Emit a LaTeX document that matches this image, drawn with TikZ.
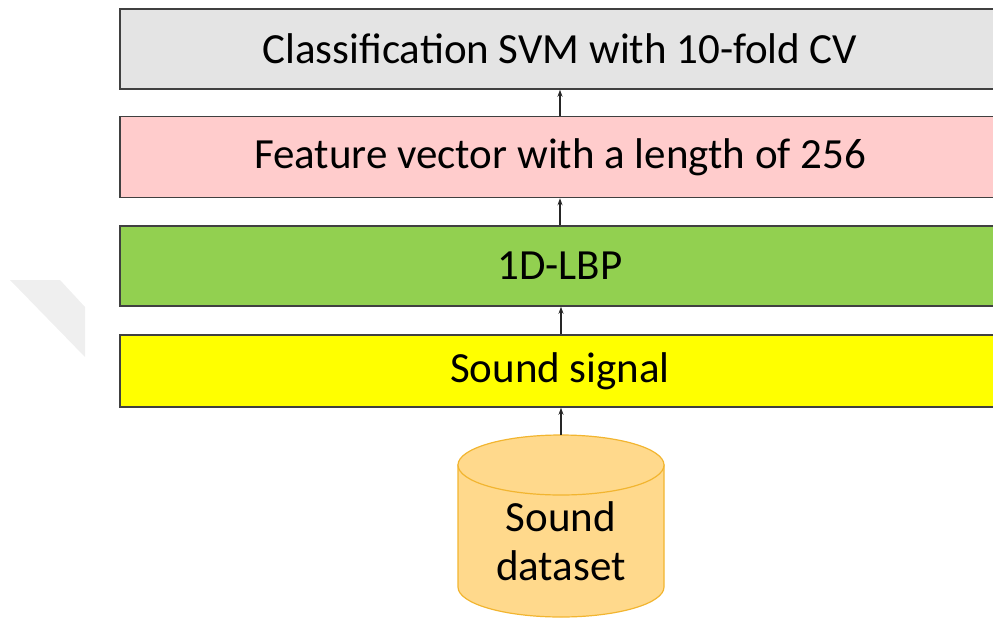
\documentclass[tikz,border=0pt]{standalone}
\usepackage{fontspec}
\setmainfont{Carlito}
\usetikzlibrary{arrows.meta}
\definecolor{boxgray}{HTML}{E4E4E4}
\definecolor{boxpink}{HTML}{FFCCCC}
\definecolor{boxgreen}{HTML}{92D050}
\definecolor{boxyellow}{HTML}{FFFF00}
\definecolor{canfill}{HTML}{FFD98C}
\definecolor{canedge}{HTML}{F2B530}
\definecolor{markgray}{HTML}{EFEFEF}
\begin{document}
\begin{tikzpicture}[
	x=1pt, y=-1pt,
	layer/.style={ rectangle, draw=black!75, line width=1.5pt, minimum width=880pt, inner sep=0pt, font=\fontsize{43}{48}\selectfont },
	canbody/.style={ draw=canedge, line width=1.2pt, fill=canfill },
	cantext/.style={ anchor=base, align=center, inner sep=0pt, font=\fontsize{43}{49}\selectfont },
	up/.style={ -{Stealth[length=7pt,width=5pt]}, line width=1.2pt, black!85 }
]
\useasboundingbox (0,0) rectangle (993,619);
\clip (0,0) rectangle (993,619);

% faint mark on the left
\fill[markgray] (10,280) -- (60,280) -- (85,307) -- (85,357) -- cycle;

\node[layer, fill=boxgray, minimum height=80pt] at (560,49) (svm) {Classification SVM with 10-fold CV};
\node[layer, fill=boxpink, minimum height=81pt] at (560,157) (feat) {Feature vector with a length of 256};
\node[layer, fill=boxgreen, minimum height=80pt] at (560,266) (lbp) {1D-LBP};
\node[layer, fill=boxyellow, minimum height=72pt] at (560,371) (signal) {Sound signal};

% the dataset drum
\path[canbody] (458,465) -- (458,587) arc[start angle=180, end angle=0, x radius=103, y radius=30] -- (664,465) -- cycle;
\path[canbody] (561,465) ellipse [x radius=103, y radius=30];
\coordinate (cantop) at (561,435);
\node[cantext] at (561,580) (dataset) {Sound\\dataset};

\draw[up] (feat.north) -- (svm.south);
\draw[up] (lbp.north) -- (feat.south);
\draw[up] ([xshift=1pt]signal.north) -- ([xshift=1pt]lbp.south);
\draw[up] (cantop) -- ([xshift=1pt]signal.south);

\end{tikzpicture}
\end{document}
